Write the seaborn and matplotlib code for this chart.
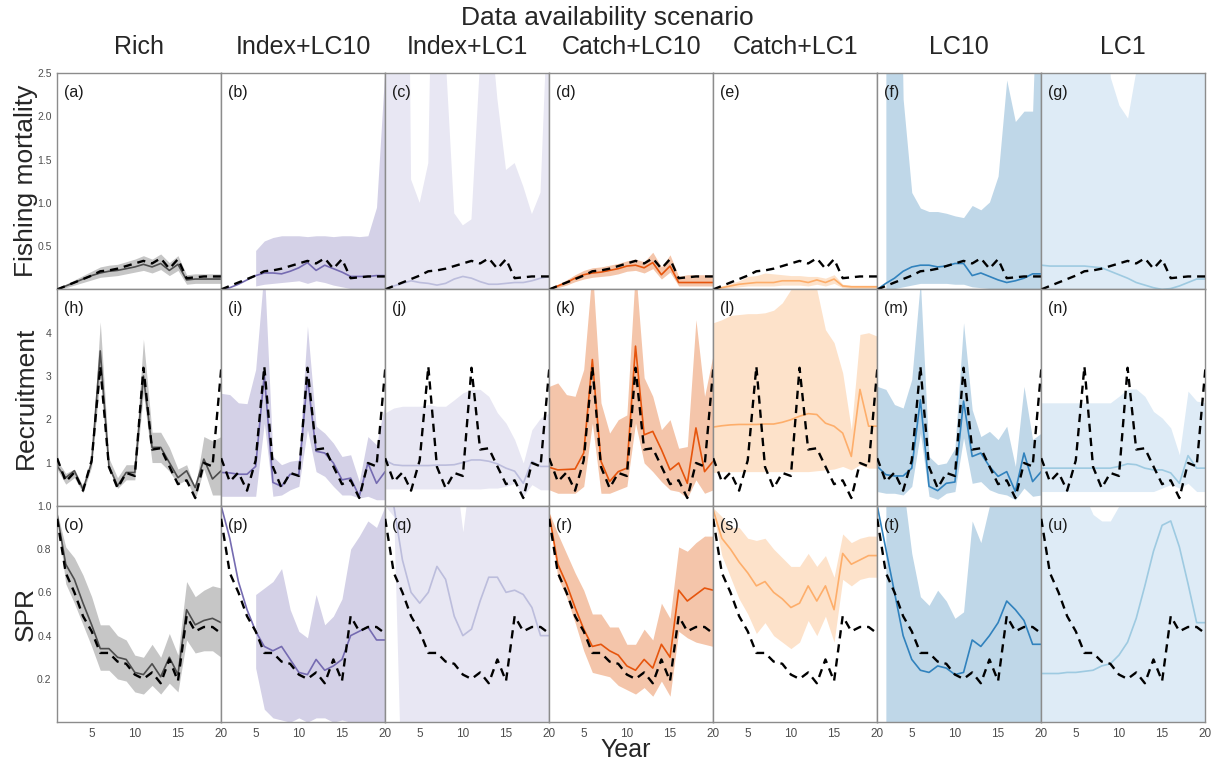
import numpy as np
import pandas as pd
import seaborn as sns
import matplotlib.pyplot as plt

nan = np.nan

# Категории и годы
scenarios = ['Rich', 'Index+LC10', 'Index+LC1', 'Catch+LC10', 'Catch+LC1', 'LC10', 'LC1']
quantities = ['Fishing mortality', 'Recruitment', 'SPR']
years = list(range(1, 21))

# "Истинные" значения (пунктир)
f_true = [0.0, 0.04, 0.08, 0.12, 0.16, 0.21, 0.22, 0.24, 0.27, 0.30, 0.33, 0.30, 0.36, 0.24, 0.35, 0.13, 0.14, 0.15, 0.15, 0.15]
r_true = [1.10, 0.56, 0.77, 0.35, 1.05, 3.22, 0.90, 0.41, 0.76, 0.69, 3.19, 1.30, 1.33, 0.91, 0.50, 0.59, 0.18, 0.99, 0.91, 3.15]
spr_true = [0.94, 0.69, 0.60, 0.49, 0.42, 0.32, 0.32, 0.28, 0.27, 0.22, 0.20, 0.23, 0.18, 0.29, 0.19, 0.49, 0.42, 0.44, 0.44, 0.41]

# Rich
f_rich = [0.0, 0.04, 0.08, 0.12, 0.16, 0.19, 0.21, 0.22, 0.24, 0.26, 0.29, 0.26, 0.30, 0.22, 0.29, 0.11, 0.12, 0.12, 0.12, 0.12]
f_rich_lo = [0.0, 0.02, 0.05, 0.08, 0.11, 0.14, 0.15, 0.16, 0.18, 0.20, 0.22, 0.19, 0.23, 0.16, 0.22, 0.06, 0.07, 0.07, 0.07, 0.07]
f_rich_hi = [0.0, 0.06, 0.11, 0.16, 0.21, 0.26, 0.28, 0.29, 0.32, 0.35, 0.39, 0.35, 0.41, 0.31, 0.39, 0.17, 0.18, 0.18, 0.18, 0.18]
r_rich = [0.92, 0.65, 0.81, 0.38, 1.00, 3.58, 0.92, 0.46, 0.77, 0.77, 3.00, 1.35, 1.35, 1.00, 0.65, 0.81, 0.42, 1.08, 0.62, 0.81]
r_rich_lo = [0.85, 0.50, 0.65, 0.30, 0.90, 3.00, 0.85, 0.40, 0.60, 0.60, 2.60, 1.00, 1.00, 0.80, 0.50, 0.60, 0.15, 0.85, 0.25, 0.25]
r_rich_hi = [1.05, 0.75, 0.85, 0.45, 1.15, 4.25, 1.10, 0.65, 0.95, 0.95, 3.85, 1.70, 1.70, 1.35, 0.85, 0.95, 0.40, 1.60, 1.50, 1.60]
spr_rich = [0.96, 0.73, 0.66, 0.55, 0.45, 0.34, 0.34, 0.30, 0.29, 0.23, 0.22, 0.27, 0.21, 0.30, 0.22, 0.52, 0.45, 0.47, 0.48, 0.46]
spr_rich_lo = [0.95, 0.64, 0.55, 0.45, 0.35, 0.24, 0.24, 0.20, 0.19, 0.14, 0.13, 0.17, 0.13, 0.18, 0.14, 0.38, 0.32, 0.33, 0.33, 0.30]
spr_rich_hi = [0.97, 0.81, 0.76, 0.68, 0.58, 0.45, 0.45, 0.40, 0.38, 0.31, 0.30, 0.36, 0.30, 0.41, 0.31, 0.65, 0.58, 0.61, 0.63, 0.62]

# Index+LC10
f_il10 = [0.0, 0.02, 0.06, 0.11, 0.16, 0.19, 0.19, 0.18, 0.21, 0.25, 0.31, 0.22, 0.28, 0.24, 0.20, 0.15, 0.15, 0.15, 0.16, 0.16]
f_il10_lo = [nan, nan, nan, nan, 0.04, 0.06, 0.07, 0.08, 0.09, 0.10, 0.07, 0.10, 0.08, 0.05, 0.03, 0.01, 0.01, 0.01, 0.01, 0.01]
f_il10_hi = [nan, nan, nan, nan, 0.45, 0.56, 0.60, 0.62, 0.62, 0.62, 0.61, 0.62, 0.62, 0.61, 0.62, 0.62, 0.61, 0.62, 0.95, 2.60]
r_il10 = [0.77, 0.76, 0.73, 0.73, 0.91, 3.03, 0.54, 0.45, 0.73, 0.72, 2.96, 1.26, 1.22, 0.99, 0.60, 0.64, 0.22, 0.99, 0.52, 0.79]
r_il10_lo = [0.22, 0.22, 0.22, 0.22, 0.22, 1.91, 0.22, 0.25, 0.37, 0.45, 1.76, 0.79, 0.68, 0.45, 0.25, 0.25, 0.18, 0.22, 0.14, 0.14]
r_il10_hi = [2.60, 2.57, 2.38, 2.36, 3.15, 5.50, 1.14, 0.95, 1.03, 1.06, 4.15, 1.84, 1.68, 1.45, 1.14, 1.18, 0.56, 1.60, 1.41, 2.38]
spr_il10 = [1.0, 0.85, 0.65, 0.52, 0.42, 0.35, 0.33, 0.35, 0.29, 0.23, 0.22, 0.29, 0.24, 0.26, 0.29, 0.40, 0.42, 0.44, 0.38, 0.38]
spr_il10_lo = [nan, nan, nan, nan, 0.25, 0.06, 0.02, 0.01, 0.0, 0.02, 0.0, 0.02, 0.02, 0.0, 0.01, 0.0, 0.0, 0.0, 0.0, 0.0]
spr_il10_hi = [nan, nan, nan, nan, 0.59, 0.62, 0.65, 0.71, 0.52, 0.42, 0.39, 0.59, 0.45, 0.49, 0.57, 0.80, 0.86, 0.93, 0.90, 1.0]

# Index+LC1
f_il1 = [0.0, 0.04, 0.07, 0.10, 0.08, 0.07, 0.05, 0.07, 0.12, 0.15, 0.13, 0.09, 0.06, 0.06, 0.07, 0.08, 0.08, 0.10, 0.13, 0.15]
f_il1_lo = [0.0, 0.0, 0.0, 0.0, 0.0, 0.0, 0.0, 0.0, 0.0, 0.0, 0.0, 0.0, 0.0, 0.0, 0.0, 0.0, 0.0, 0.0, 0.0, 0.0]
f_il1_hi = [3.0, 4.0, 12.0, 1.27, 1.0, 1.46, 7.0, 2.7, 0.88, 0.74, 0.81, 2.65, 3.3, 2.2, 1.38, 1.46, 1.19, 0.87, 1.12, 3.67]
r_il1 = [1.05, 0.95, 0.93, 0.93, 0.93, 0.93, 0.94, 0.94, 0.95, 1.00, 1.06, 1.06, 1.03, 0.97, 0.87, 0.80, 0.52, 1.03, 0.91, 0.91]
r_il1_lo = [0.39, 0.39, 0.39, 0.39, 0.39, 0.39, 0.39, 0.39, 0.39, 0.39, 0.39, 0.39, 0.41, 0.41, 0.45, 0.52, 0.22, 0.49, 0.37, 0.37]
r_il1_hi = [2.15, 2.26, 2.30, 2.30, 2.30, 2.34, 2.30, 2.30, 2.45, 2.61, 2.69, 2.69, 2.53, 2.15, 1.91, 1.53, 0.99, 1.76, 2.03, 2.15]
spr_il1 = [1.0, 1.0, 0.75, 0.60, 0.55, 0.60, 0.72, 0.66, 0.49, 0.40, 0.43, 0.56, 0.67, 0.67, 0.60, 0.61, 0.59, 0.53, 0.40, 0.40]
spr_il1_lo = [1.0, 0.95, -0.5, -0.3, -0.3, -0.3, -0.3, -0.3, -0.3, -0.3, -0.3, -0.3, -0.3, -0.3, -0.3, -0.3, -0.3, -0.3, -0.3, -0.3]
spr_il1_hi = [1.0, 1.2, 1.2, 1.2, 1.2, 1.2, 1.2, 1.2, 1.2, 0.88, 1.2, 1.2, 1.2, 1.2, 1.2, 1.2, 1.2, 1.2, 1.2, 1.2]

# Catch+LC10
f_cl10 = [0.0, 0.04, 0.08, 0.13, 0.17, 0.19, 0.20, 0.22, 0.24, 0.27, 0.28, 0.25, 0.31, 0.17, 0.27, 0.08, 0.08, 0.08, 0.08, 0.08]
f_cl10_lo = [0.0, 0.02, 0.05, 0.09, 0.12, 0.14, 0.15, 0.16, 0.18, 0.21, 0.22, 0.19, 0.24, 0.12, 0.20, 0.04, 0.04, 0.04, 0.04, 0.04]
f_cl10_hi = [0.0, 0.06, 0.11, 0.17, 0.22, 0.25, 0.26, 0.28, 0.30, 0.33, 0.35, 0.32, 0.43, 0.26, 0.40, 0.15, 0.17, 0.17, 0.17, 0.17]
r_cl10 = [0.89, 0.83, 0.84, 0.85, 1.22, 3.38, 1.03, 0.56, 0.79, 0.87, 3.69, 1.64, 1.72, 1.30, 0.83, 0.99, 0.52, 1.80, 0.79, 1.03]
r_cl10_lo = [0.37, 0.29, 0.29, 0.29, 0.45, 1.91, 0.29, 0.29, 0.37, 0.45, 1.91, 0.99, 0.79, 0.56, 0.37, 0.33, 0.18, 0.60, 0.29, 0.37]
r_cl10_hi = [2.76, 2.84, 2.57, 2.53, 3.15, 5.50, 2.38, 1.68, 1.99, 2.10, 5.50, 2.96, 2.53, 1.76, 1.99, 1.33, 1.37, 4.30, 2.53, 3.50]
spr_cl10 = [0.96, 0.73, 0.64, 0.53, 0.43, 0.35, 0.36, 0.33, 0.31, 0.26, 0.24, 0.29, 0.25, 0.36, 0.30, 0.61, 0.56, 0.59, 0.62, 0.61]
spr_cl10_lo = [0.95, 0.67, 0.58, 0.46, 0.33, 0.23, 0.22, 0.21, 0.17, 0.15, 0.13, 0.16, 0.12, 0.19, 0.12, 0.42, 0.39, 0.37, 0.36, 0.35]
spr_cl10_hi = [0.97, 0.87, 0.78, 0.69, 0.61, 0.50, 0.50, 0.44, 0.44, 0.36, 0.36, 0.43, 0.38, 0.55, 0.48, 0.81, 0.79, 0.83, 0.86, 0.86]

# Catch+LC1
f_cl1 = [0.0, 0.02, 0.04, 0.06, 0.07, 0.08, 0.08, 0.08, 0.10, 0.10, 0.10, 0.08, 0.11, 0.08, 0.12, 0.04, 0.03, 0.03, 0.03, 0.03]
f_cl1_lo = [0.0, 0.01, 0.02, 0.03, 0.04, 0.04, 0.04, 0.04, 0.05, 0.05, 0.05, 0.04, 0.06, 0.04, 0.07, 0.02, 0.01, 0.01, 0.01, 0.01]
f_cl1_hi = [0.0, 0.04, 0.07, 0.10, 0.15, 0.16, 0.19, 0.18, 0.17, 0.16, 0.16, 0.15, 0.15, 0.13, 0.17, 0.06, 0.05, 0.05, 0.05, 0.05]
r_cl1 = [1.82, 1.85, 1.87, 1.88, 1.88, 1.88, 1.89, 1.89, 1.93, 1.99, 2.07, 2.13, 2.11, 1.91, 1.84, 1.68, 1.14, 2.69, 1.84, 1.84]
r_cl1_lo = [0.77, 0.79, 0.79, 0.79, 0.79, 0.79, 0.79, 0.79, 0.79, 0.79, 0.79, 0.79, 0.81, 0.83, 0.85, 0.91, 0.83, 0.95, 0.87, 0.87]
r_cl1_hi = [4.23, 4.30, 4.40, 4.42, 4.44, 4.44, 4.46, 4.52, 4.69, 5.00, 5.15, 5.23, 5.00, 4.07, 3.77, 3.07, 1.76, 3.96, 4.00, 3.92]
spr_cl1 = [0.98, 0.85, 0.80, 0.74, 0.69, 0.63, 0.65, 0.60, 0.57, 0.53, 0.55, 0.63, 0.56, 0.63, 0.52, 0.78, 0.73, 0.75, 0.77, 0.77]
spr_cl1_lo = [0.97, 0.77, 0.67, 0.57, 0.50, 0.41, 0.46, 0.40, 0.37, 0.34, 0.37, 0.47, 0.40, 0.49, 0.37, 0.66, 0.63, 0.66, 0.67, 0.67]
spr_cl1_hi = [0.99, 0.95, 0.90, 0.90, 0.85, 0.84, 0.85, 0.80, 0.76, 0.72, 0.72, 0.78, 0.72, 0.77, 0.67, 0.87, 0.83, 0.85, 0.86, 0.86]

# LC10
f_lc10 = [0.0, 0.07, 0.13, 0.21, 0.26, 0.28, 0.28, 0.26, 0.27, 0.30, 0.30, 0.16, 0.19, 0.15, 0.11, 0.08, 0.10, 0.13, 0.18, 0.18]
f_lc10_lo = [nan, 0.0, 0.01, 0.03, 0.05, 0.07, 0.07, 0.07, 0.07, 0.06, 0.06, 0.03, 0.02, 0.01, 0.0, 0.0, 0.0, 0.0, 0.0, 0.0]
f_lc10_hi = [nan, 6.0, 8.0, 2.2, 1.12, 0.94, 0.90, 0.90, 0.88, 0.85, 0.83, 0.97, 0.92, 1.01, 1.31, 2.42, 1.94, 2.06, 2.06, 5.0]
r_lc10 = [0.91, 0.72, 0.69, 0.69, 0.87, 2.45, 0.45, 0.35, 0.52, 0.55, 2.42, 1.14, 1.22, 0.91, 0.68, 0.79, 0.33, 1.22, 0.56, 0.79]
r_lc10_lo = [0.33, 0.29, 0.29, 0.25, 0.45, 1.68, 0.22, 0.15, 0.29, 0.33, 1.57, 0.52, 0.56, 0.37, 0.29, 0.25, 0.14, 0.41, 0.22, 0.25]
r_lc10_hi = [2.76, 2.69, 2.34, 2.26, 2.92, 5.20, 1.14, 0.95, 0.99, 1.33, 4.23, 2.22, 1.60, 1.72, 1.53, 1.84, 0.91, 2.76, 1.53, 1.68]
spr_lc10 = [1.0, 0.80, 0.60, 0.40, 0.29, 0.24, 0.23, 0.26, 0.25, 0.22, 0.23, 0.38, 0.35, 0.40, 0.46, 0.56, 0.52, 0.47, 0.36, 0.36]
spr_lc10_lo = [nan, -0.2, -0.2, -0.2, -0.2, -0.2, -0.2, -0.2, -0.2, -0.2, -0.2, -0.2, -0.2, -0.2, -0.2, -0.2, -0.2, -0.2, -0.2, -0.2]
spr_lc10_hi = [nan, 1.5, 1.5, 1.1, 0.78, 0.58, 0.54, 0.61, 0.56, 0.48, 0.51, 0.93, 0.83, 1.0, 1.5, 1.5, 1.5, 1.5, 1.5, 1.5]

# LC1
f_lc1 = [0.28, 0.27, 0.27, 0.27, 0.27, 0.27, 0.26, 0.25, 0.21, 0.17, 0.13, 0.08, 0.05, 0.02, 0.0, 0.01, 0.04, 0.08, 0.12, 0.12]
f_lc1_lo = [0.0, 0.0, 0.0, 0.0, 0.0, 0.0, 0.0, 0.0, 0.0, 0.0, 0.0, 0.0, 0.0, 0.0, 0.0, 0.0, 0.0, 0.0, 0.0, 0.0]
f_lc1_hi = [5.0, 5.0, 5.0, 5.0, 5.0, 5.0, 5.0, 4.0, 2.45, 2.13, 1.98, 2.55, 5.0, 5.0, 5.0, 5.0, 5.0, 5.0, 5.0, 5.0]
r_lc1 = [0.87, 0.87, 0.87, 0.87, 0.87, 0.87, 0.87, 0.87, 0.87, 0.91, 0.97, 0.95, 0.87, 0.83, 0.83, 0.76, 0.52, 1.16, 0.87, 0.87]
r_lc1_lo = [0.33, 0.33, 0.33, 0.33, 0.33, 0.33, 0.33, 0.33, 0.33, 0.33, 0.33, 0.33, 0.33, 0.33, 0.41, 0.49, 0.41, 0.52, 0.33, 0.33]
r_lc1_hi = [2.38, 2.38, 2.38, 2.38, 2.38, 2.38, 2.38, 2.38, 2.38, 2.53, 2.70, 2.70, 2.53, 2.18, 2.03, 1.80, 1.18, 2.65, 2.42, 2.38]
spr_lc1 = [0.225, 0.225, 0.225, 0.23, 0.23, 0.235, 0.24, 0.26, 0.27, 0.31, 0.37, 0.48, 0.63, 0.79, 0.91, 0.93, 0.81, 0.64, 0.46, 0.46]
spr_lc1_lo = [0.0, 0.0, 0.0, 0.0, 0.0, 0.0, 0.0, 0.0, 0.0, 0.0, 0.0, 0.0, 0.0, 0.0, 0.0, 0.0, 0.0, 0.0, 0.0, 0.0]
spr_lc1_hi = [1.2, 1.2, 1.2, 1.2, 1.2, 1.05, 0.96, 0.93, 0.93, 1.0, 1.2, 1.2, 1.2, 1.2, 1.2, 1.2, 1.2, 1.2, 1.2, 1.2]

# Цвета: линия оценки и заливка интервала
line_colors = ['#4d4d4d', '#756bb1', '#bcbddc', '#e6550d', '#fdae6b', '#3182bd', '#9ecae1']
fill_colors = ['#c6c6c6', '#d4d1e7', '#e8e7f3', '#f4c5aa', '#fde2ca', '#bfd7e8', '#deebf6']

est = {'Fishing mortality': [f_rich, f_il10, f_il1, f_cl10, f_cl1, f_lc10, f_lc1],
       'Recruitment': [r_rich, r_il10, r_il1, r_cl10, r_cl1, r_lc10, r_lc1],
       'SPR': [spr_rich, spr_il10, spr_il1, spr_cl10, spr_cl1, spr_lc10, spr_lc1]}
low = {'Fishing mortality': [f_rich_lo, f_il10_lo, f_il1_lo, f_cl10_lo, f_cl1_lo, f_lc10_lo, f_lc1_lo],
       'Recruitment': [r_rich_lo, r_il10_lo, r_il1_lo, r_cl10_lo, r_cl1_lo, r_lc10_lo, r_lc1_lo],
       'SPR': [spr_rich_lo, spr_il10_lo, spr_il1_lo, spr_cl10_lo, spr_cl1_lo, spr_lc10_lo, spr_lc1_lo]}
high = {'Fishing mortality': [f_rich_hi, f_il10_hi, f_il1_hi, f_cl10_hi, f_cl1_hi, f_lc10_hi, f_lc1_hi],
        'Recruitment': [r_rich_hi, r_il10_hi, r_il1_hi, r_cl10_hi, r_cl1_hi, r_lc10_hi, r_lc1_hi],
        'SPR': [spr_rich_hi, spr_il10_hi, spr_il1_hi, spr_cl10_hi, spr_cl1_hi, spr_lc10_hi, spr_lc1_hi]}
truth = {'Fishing mortality': f_true, 'Recruitment': r_true, 'SPR': spr_true}

# Длинный датафрейм
rows = []
for q in quantities:
    for k, s in enumerate(scenarios):
        for i, y in enumerate(years):
            rows.append({'quantity': q, 'scenario': s, 'year': y,
                         'est': est[q][k][i], 'lo': low[q][k][i], 'hi': high[q][k][i],
                         'true': truth[q][i]})
df = pd.DataFrame(rows)

sns.set_theme(style='white')
plt.rcParams['font.family'] = ['Liberation Sans', 'DejaVu Sans']

ylims = {'Fishing mortality': (0, 2.5), 'Recruitment': (0, 5), 'SPR': (0, 1.0)}
yticks = {'Fishing mortality': [0.5, 1.0, 1.5, 2.0, 2.5], 'Recruitment': [1, 2, 3, 4],
          'SPR': [0.2, 0.4, 0.6, 0.8, 1.0]}
letters = 'abcdefghijklmnopqrstu'

fig, axes = plt.subplots(3, 7, figsize=(12.15, 7.61), dpi=100, sharex=True, sharey='row')
plt.subplots_adjust(left=0.047, right=0.992, top=0.904, bottom=0.051, wspace=0, hspace=0)

for r, q in enumerate(quantities):
    for c, s in enumerate(scenarios):
        ax = axes[r, c]
        d = df[(df.quantity == q) & (df.scenario == s)]
        ax.fill_between(d.year, d.lo, d.hi, color=fill_colors[c], lw=0, zorder=1)
        sns.lineplot(data=d, x='year', y='est', ax=ax, color=line_colors[c], lw=1.2,
                     errorbar=None, zorder=2)
        sns.lineplot(data=d, x='year', y='true', ax=ax, color='black', lw=1.7,
                     linestyle=(0, (3.5, 2.5)), errorbar=None, zorder=3)
        ax.set_xlim(1, 20)
        ax.set_ylim(*ylims[q])
        ax.set_yticks(yticks[q])
        ax.set_xticks([5, 10, 15, 20])
        ax.set_xlabel('')
        ax.set_ylabel('')
        for sp in ax.spines.values():
            sp.set_color('#8c8c8c')
            sp.set_linewidth(1.0)
        ax.tick_params(axis='y', length=3 if c == 0 else 0, color='#8c8c8c',
                       labelsize=7.5, labelcolor='#4d4d4d', pad=1)
        ax.tick_params(axis='x', length=2 if r == 2 else 0, color='#8c8c8c',
                       labelsize=8.5, labelcolor='#4d4d4d', pad=2)
        ax.text(0.04, 0.91, '(' + letters[r * 7 + c] + ')', transform=ax.transAxes,
                fontsize=11.5, color='#1a1a1a', va='center', ha='left', zorder=5)
    axes[r, 0].set_ylabel(q, fontsize=19)
    axes[r, 0].yaxis.set_label_coords(-0.115, 0.5)

for c, s in enumerate(scenarios):
    pos = axes[0, c].get_position()
    fig.text((pos.x0 + pos.x1) / 2, 0.938, s, ha='center', va='center', fontsize=18)
fig.text(0.5, 0.977, 'Data availability scenario', ha='center', va='center', fontsize=19)
fig.text(0.515, 0.014, 'Year', ha='center', va='center', fontsize=18)

plt.savefig('out.png', dpi=100)
plt.close()
